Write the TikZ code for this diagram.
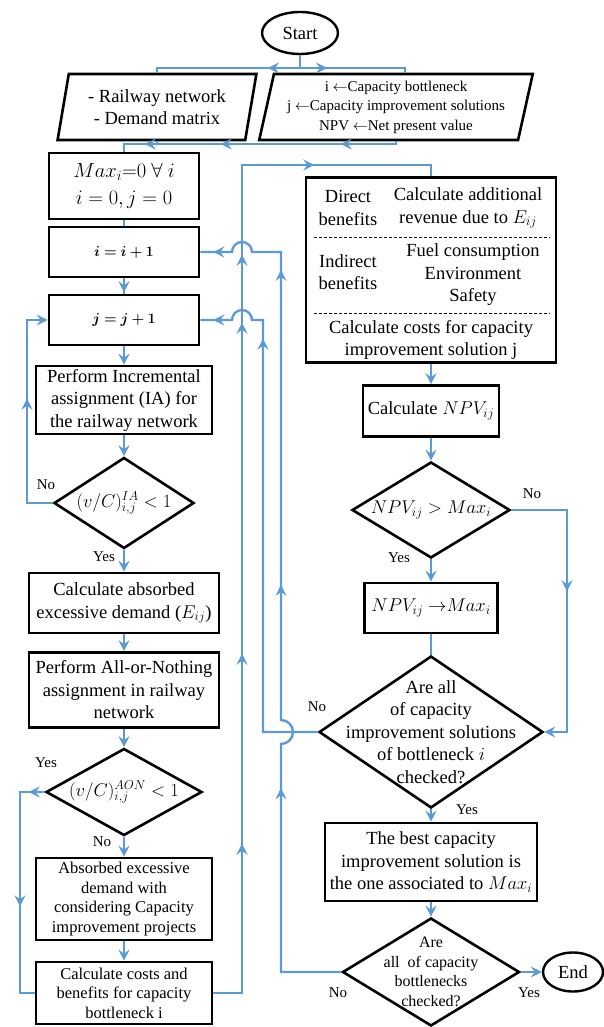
\RequirePackage{fix-cm}
\documentclass[tikz,border=0pt]{standalone}
\usepackage{bm}
\usepackage{fontspec}
\setmainfont{Liberation Serif}
\usetikzlibrary{shapes.geometric,arrows.meta,decorations.markings}
\definecolor{flowblue}{RGB}{91,155,213}
\tikzset{
	box/.style={draw, line width=2.6pt, align=center, inner sep=1pt, font=\fontsize{18.5}{22.5}\selectfont},
	smallbox/.style={box, font=\fontsize{16.5}{19.5}\selectfont},
	terminal/.style={draw, ellipse, line width=2.4pt, inner sep=0pt, font=\fontsize{18.5}{22}\selectfont},
	inout/.style={draw, trapezium, trapezium left angle=76, trapezium right angle=104, trapezium stretches=true, line width=2.6pt, align=center, inner sep=0pt},
	decision/.style={draw, diamond, line width=2.6pt, inner sep=0pt},
	dtext/.style={align=center, inner sep=0pt, font=\fontsize{18.5}{22.5}\selectfont},
	yesno/.style={inner sep=0pt, font=\fontsize{15}{18}\selectfont},
	flow/.style={color=flowblue, line width=2.4pt},
	tipat/.style={postaction={decorate, decoration={markings, mark=at position #1 with {\arrow{>}}}}},
}
\begin{document}
\begin{tikzpicture}[x=1pt, y=-1pt, >={Stealth[length=11pt,width=11pt,inset=4pt]}]
			\useasboundingbox (0,0) rectangle (604,1027);

			\node	(start) at (300,33) [terminal, minimum width=76, minimum height=42] {Start};
			\node	(data) at (157,107) [inout, minimum width=199, minimum height=66, font=\fontsize{18.5}{22}\selectfont] {- Railway network\\- Demand matrix};
			\node	(vars) at (396,107) [inout, minimum width=274, minimum height=66, font=\fontsize{15}{19.5}\selectfont] {i $\leftarrow$Capacity bottleneck\\j $\leftarrow$Capacity improvement solutions\\NPV $\leftarrow$Net present value};

			\node	(init) at (124,186) [box, minimum width=150, minimum height=66, font=\fontsize{20.5}{27}\selectfont] {$Max_{i}{=}0\ \forall\ i$\\$i=0, j=0$};
			\node	(iinc) at (124,252) [box, minimum width=150, minimum height=50, font=\fontsize{14.5}{18}\selectfont] {$\bm{i=i+1}$};
			\node	(jinc) at (124,320) [box, minimum width=150, minimum height=50, font=\fontsize{14.5}{18}\selectfont] {$\bm{j=j+1}$};
			\node	(ia) at (124,400) [box, minimum width=176, minimum height=68] {Perform Incremental\\assignment (IA) for\\the railway network};
			\node	(iadec) at (124,503) [decision, minimum width=140, minimum height=91, label={[dtext]center:$(v/C)^{IA}_{i,j}<1$}] {};
			\node	(absorb) at (124,603) [box, minimum width=190, minimum height=60] {Calculate absorbed\\excessive demand ($E_{ij}$)};
			\node	(aon) at (124,690) [box, minimum width=190, minimum height=75] {Perform All-or-Nothing\\assignment in railway\\network};
			\node	(aondec) at (124,792) [decision, minimum width=156, minimum height=87, label={[dtext]center:$(v/C)^{AON}_{i,j}<1$}] {};
			\node	(absproj) at (124,899) [smallbox, minimum width=176, minimum height=82] {Absorbed excessive\\demand with\\considering Capacity\\improvement projects};
			\node	(costben) at (124,993) [smallbox, minimum width=176, minimum height=62] {Calculate costs and\\benefits for capacity\\bottleneck i};

			\node	(benefits) at (431,270) [box, minimum width=250, minimum height=185] {};
			\node	(dirlbl) at (348,208) [dtext] {Direct\\benefits};
			\node	(dirtxt) at (468,208) [dtext] {Calculate additional\\revenue due to $E_{ij}$};
			\node	(indlbl) at (348,272) [dtext] {Indirect\\benefits};
			\node	(indtxt) at (473,275) [dtext] {Fuel consumption\\Environment\\Safety};
			\node	(costtxt) at (431,340) [dtext] {Calculate costs for capacity\\improvement solution j};
			\draw[line width=0.8pt, dash pattern=on 3pt off 2pt] (314,237) -- (550,237);
			\draw[line width=0.8pt, dash pattern=on 3pt off 2pt] (314,313) -- (550,313);

			\node	(npv) at (431,411) [box, minimum width=136, minimum height=51] {Calculate $NPV_{ij}$};
			\node	(npvdec) at (431,510) [decision, minimum width=158, minimum height=96, label={[dtext]center:$NPV_{ij} > Max_{i}$}] {};
			\node	(npvmax) at (431,608) [box, minimum width=133, minimum height=50] {$NPV_{ij}\ {\rightarrow}Max_{i}$};
			\node	(alldec) at (431,732) [decision, minimum width=224, minimum height=152, label={[dtext]center:Are all\\of capacity\\improvement solutions\\of bottleneck $i$\\checked?}] {};
			\node	(best) at (431,862) [box, minimum width=212, minimum height=78] {The best capacity\\improvement solution is\\the one associated to $Max_{i}$};
			\node	(botdec) at (431,972) [decision, minimum width=177, minimum height=108, label={[dtext, font=\fontsize{16}{19.5}\selectfont]center:Are\\all\ \ of capacity\\bottlenecks\\checked?}] {};
			\node	(finish) at (573,972) [terminal, minimum width=60, minimum height=39] {End};

			\node	(no1) at (46,485) [yesno] {No};
			\node	(yes1) at (104,557) [yesno] {Yes};
			\node	(yes2) at (46,763) [yesno] {Yes};
			\node	(no2) at (102,842) [yesno] {No};
			\node	(no3) at (532,494) [yesno] {No};
			\node	(yes3) at (399,558) [yesno] {Yes};
			\node	(no4) at (317,707) [yesno] {No};
			\node	(yes4) at (467,810) [yesno] {Yes};
			\node	(no5) at (338,993) [yesno] {No};
			\node	(yes5) at (529,993) [yesno] {Yes};

			\coordinate (split) at (300,68);
			\coordinate (merge) at (124,144);
			\draw[flow] (start) -- (split);
			\draw[flow, tipat=32pt] (split) -| (data.north);
			\draw[flow, tipat=27pt] (split) -| ([xshift=9pt]vars.north);
			\draw[flow] (data.south) -- (data.south |- merge);
			\draw[flow, tipat=58pt, tipat=178pt, tipat=254pt] (vars.south) |- (merge) -- (init.north);

			\draw[flow] (init) -- (iinc);
			\draw[flow, tipat=14pt] (iinc) -- (jinc);
			\draw[flow, ->] (jinc) -- (ia);
			\draw[flow, ->] (ia) -- (iadec);
			\draw[flow, ->] (iadec) -- (absorb);
			\draw[flow, ->] (absorb) -- (aon);
			\draw[flow, ->] (aon) -- (aondec);
			\draw[flow, ->] (aondec) -- (absproj);
			\draw[flow, ->] (absproj) -- (costben);

			\draw[flow, tipat=130pt, ->] (iadec.west) -- (27,503) |- (jinc.west);
			\draw[flow, tipat=16pt, tipat=139pt] (aondec.west) -- (20,792) |- (costben.west);

			\draw[flow, tipat=178pt, tipat=368pt, tipat=699pt, tipat=767pt, tipat=929pt] (costben.east) -- (242,993) -- (242,165) -| (benefits.north);
			\draw[flow, tipat=448pt, tipat=-13pt] (alldec.west) -- (263,732) -- (263,320) -- (252,320) arc[start angle=0, end angle=-180, radius=10] -- (jinc.east);
			\draw[flow, tipat=244pt, tipat=461pt, tipat=776pt, tipat=-13pt] (botdec.west) -- (281,972) -- (281,744) arc[start angle=90, end angle=-90, radius=12] -- (281,252) -- (252,252) arc[start angle=0, end angle=-180, radius=10] -- (iinc.east);

			\draw[flow, ->] (benefits) -- (npv);
			\draw[flow, ->] (npv) -- (npvdec);
			\draw[flow, ->] (npvdec) -- (npvmax);
			\draw[flow] (npvmax) -- (alldec);
			\draw[flow, ->] (alldec) -- (best);
			\draw[flow, ->] (best) -- (botdec);
			\draw[flow, ->] (botdec) -- (finish);
			\draw[flow, tipat=137pt, ->] (npvdec.east) -- (567,510) |- (alldec.east);
		\end{tikzpicture}
\end{document}
